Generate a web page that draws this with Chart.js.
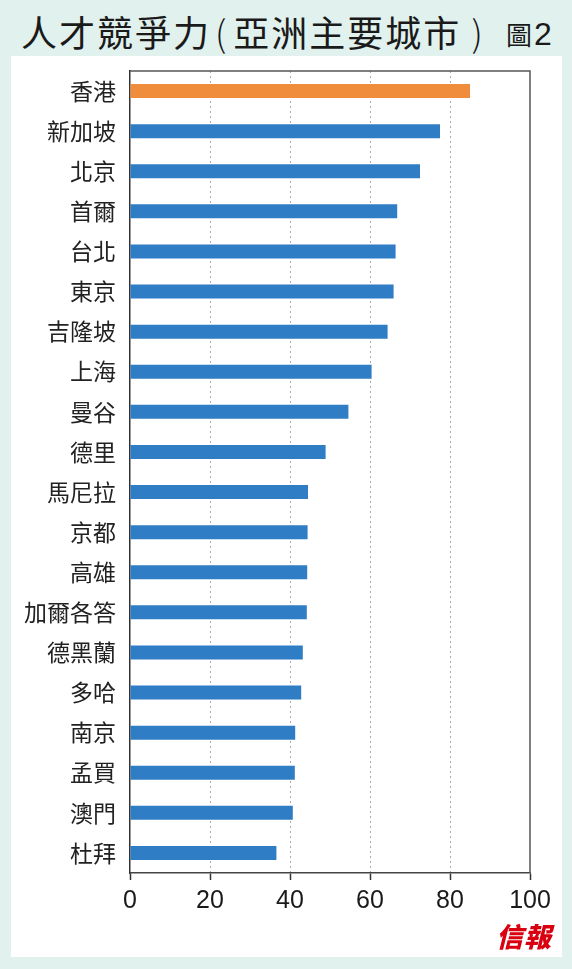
<!DOCTYPE html>
<html>
<head>
<meta charset="utf-8">
<script src="https://cdn.jsdelivr.net/npm/chart.js@4"></script>
<style>
  body { margin: 0; width: 572px; height: 969px; background: #e1f1ee; position: relative; overflow: hidden; }
  #title { position: absolute; left: 21px; top: 6px; font-family: "Noto Sans CJK TC", sans-serif; font-size: 36px; line-height: 50px; letter-spacing: 2px; color: #1a1a1a; white-space: nowrap; }
  #title .p { display: inline-block; font-weight: 300; margin: 0 5px 0 4px; }
  #title .p.r { margin: 0 0 0 10px; }
  #fig { position: absolute; left: 506px; top: 14px; font-family: "Noto Sans CJK TC", sans-serif; font-size: 26px; line-height: 40px; color: #1a1a1a; }
  #fig .num { font-family: "Liberation Sans Narrow", "Liberation Sans", sans-serif; font-size: 32px; margin-left: 2px; }
  #panel { position: absolute; left: 11px; top: 56px; width: 551px; height: 901px; background: #fff; }
  #logo { position: absolute; left: 496px; top: 918px; font-family: "Noto Sans CJK TC", serif; font-weight: 900; font-size: 27px; line-height: 36px; color: #d9000f; font-style: italic; letter-spacing: 1px; }
</style>
</head>
<body>
<div id="title">人才競爭力<span class="p">(</span>亞洲主要城市<span class="p r">)</span></div>
<div id="fig">圖<span class="num">2</span></div>
<div id="panel"><canvas id="talentChart"></canvas></div>
<div id="logo">信報</div>
<script>
// Cities, top to bottom
const cities = ['香港', '新加坡', '北京', '首爾', '台北', '東京', '吉隆坡', '上海', '曼谷', '德里',
    '馬尼拉', '京都', '高雄', '加爾各答', '德黑蘭', '多哈', '南京', '孟買', '澳門', '杜拜'];
// Talent competitiveness scores
const scores = [85.0, 77.5, 72.5, 66.8, 66.4, 65.9, 64.4, 60.4, 54.6, 48.9,
    44.5, 44.4, 44.3, 44.2, 43.2, 42.8, 41.3, 41.2, 40.7, 36.6];
const highlightCity = '香港';
const axisMin = 0;
const axisMax = 100;
const axisStep = 20;

const barColors = cities.map(c => c === highlightCity ? '#ef8d3d' : '#2f7dc4');

// Draws the grey frame round the plot area
const plotFrame = {
    id: 'plotFrame',
    afterDraw(chart) {
        const { ctx, chartArea: a } = chart;
        ctx.save();
        ctx.strokeStyle = '#555';
        ctx.lineWidth = 1.5;
        ctx.beginPath();
        ctx.moveTo(a.left, a.top);
        ctx.lineTo(a.right, a.top);
        ctx.lineTo(a.right, a.bottom);
        ctx.stroke();
        ctx.restore();
    }
};

const ctx = document.getElementById('talentChart').getContext('2d');
new Chart(ctx, {
    type: 'bar',
    data: {
        labels: cities,
        datasets: [{
            data: scores,
            backgroundColor: barColors,
            borderWidth: 0,
            barPercentage: 0.35,
            categoryPercentage: 1
        }]
    },
    plugins: [plotFrame],
    options: {
        indexAxis: 'y',
        responsive: true,
        maintainAspectRatio: false,
        animation: false,
        layout: { padding: { left: 0, right: 32, top: 15, bottom: 0 } },
        plugins: {
            legend: { display: false },
            tooltip: { enabled: false }
        },
        scales: {
            x: {
                min: axisMin,
                max: axisMax,
                ticks: {
                    stepSize: axisStep,
                    color: '#1a1a1a',
                    padding: 6,
                    font: { family: '"Liberation Sans Narrow", "Liberation Sans", sans-serif', size: 25 }
                },
                grid: {
                    color: c => (c.tick && (c.tick.value === axisMin || c.tick.value === axisMax)) ? 'rgba(0,0,0,0)' : '#aaaaaa',
                    lineWidth: 1,
                    tickColor: '#333',
                    tickLength: 7,
                    tickWidth: 1.5
                },
                border: { color: '#444', width: 1.5, dash: [2, 3] },
                afterFit(scale) { scale.height = 84; }
            },
            y: {
                ticks: {
                    color: '#222',
                    padding: 14,
                    font: { family: '"Noto Sans CJK TC", sans-serif', size: 23 }
                },
                grid: { display: false, drawTicks: false },
                border: { color: '#333', width: 1.5 },
                afterFit(scale) {
                    scale.width = 119;
                    scale.paddingTop = 0;
                    scale.paddingBottom = 0;
                }
            }
        }
    }
});
</script>
</body>
</html>
